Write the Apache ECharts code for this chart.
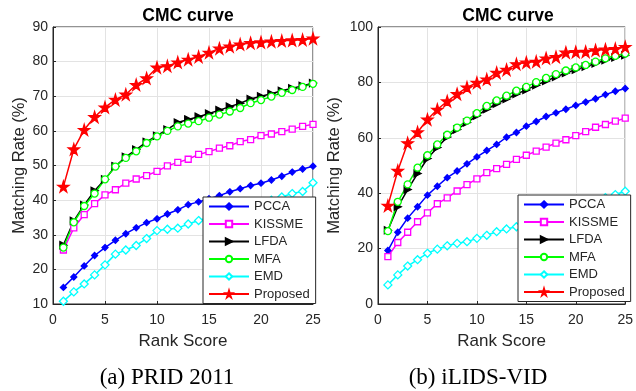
<!DOCTYPE html>
<html><head><meta charset="utf-8">
<script src="https://cdn.jsdelivr.net/npm/echarts@6/dist/echarts.min.js"></script>
<style>html,body{margin:0;padding:0;background:#fff}#c{width:636px;height:391px}</style>
</head><body><div id="c"></div>
<script>
var ranks = [1,2,3,4,5,6,7,8,9,10,11,12,13,14,15,16,17,18,19,20,21,22,23,24,25];
var methods = ['PCCA','KISSME','LFDA','MFA','EMD','Proposed'];
// PRID 2011
var pridPCCA = [14.8,17.8,21.0,24.0,26.3,28.4,30.3,32.0,33.5,34.6,36.0,37.2,38.7,39.5,40.4,41.3,42.4,43.3,44.2,44.9,45.8,46.9,48.1,49.0,49.8];
var pridKISSME = [25.6,32.0,35.8,39.0,41.5,43.0,44.9,46.1,47.1,48.3,49.9,50.9,51.8,53.2,54.0,55.0,55.7,56.9,57.5,58.6,59.1,59.8,60.5,61.3,61.9];
var pridLFDA = [27.0,34.0,38.6,42.7,46.0,49.8,52.5,54.6,56.8,58.6,60.4,62.4,63.3,64.1,65.0,66.0,67.0,68.0,69.2,70.0,70.7,71.6,72.3,73.0,73.8];
var pridMFA = [26.3,33.6,38.3,41.9,46.0,49.7,52.2,54.1,56.5,58.4,60.0,61.3,62.1,62.8,63.8,64.7,65.6,66.6,68.0,68.9,69.9,71.0,71.8,72.7,73.6];
var pridEMD = [10.8,13.5,15.8,18.4,21.3,24.4,25.6,26.9,28.9,31.2,31.6,31.9,33.1,34.1,35.0,35.9,36.6,37.5,38.3,39.2,40.0,40.9,41.9,42.5,45.0];
var pridProposed = [43.9,54.7,60.3,64.0,66.8,69.0,70.5,73.3,75.2,78.3,78.7,79.8,80.6,81.4,82.6,83.8,84.4,85.0,85.4,85.6,85.8,86.0,86.2,86.3,86.7];
// iLIDS-VID
var ilidsPCCA = [19.3,25.9,31.0,35.1,39.3,42.5,45.6,48.0,50.6,53.1,55.4,57.6,60.2,61.9,64.2,65.9,67.7,69.0,70.3,71.7,72.9,74.1,75.6,76.8,77.8];
var ilidsKISSME = [17.1,22.2,25.9,29.7,32.9,36.2,38.3,40.8,43.1,45.2,47.4,48.9,50.4,52.2,53.7,55.2,56.6,58.1,59.3,60.8,62.2,63.8,64.8,66.0,67.1];
var ilidsLFDA = [26.6,35.1,41.3,47.1,52.5,56.5,60.3,63.0,65.5,68.0,70.3,72.3,74.0,75.8,77.3,79.0,80.5,82.0,83.4,84.6,85.7,86.8,88.0,89.0,89.8];
var ilidsMFA = [26.3,36.9,43.2,49.2,53.7,57.6,61.1,63.7,66.2,68.9,71.5,73.5,75.2,77.0,78.4,80.1,81.6,83.0,84.3,85.4,86.3,87.5,88.7,89.6,90.4];
var ilidsEMD = [6.9,10.5,13.7,16.0,18.3,19.8,21.0,21.9,22.5,23.7,24.8,26.1,27.1,27.9,29.0,30.1,31.1,32.4,33.6,34.7,36.0,37.3,38.4,39.5,40.7];
var ilidsProposed = [35.5,48.1,58.1,62.0,66.6,70.2,73.2,75.8,78.2,79.9,81.1,83.5,84.6,86.6,87.2,87.5,88.7,89.2,90.8,91.0,91.1,91.6,91.9,92.1,92.8];

var STAR = 'path://M50,0 L61,35 L98,35 L68,57 L79,91 L50,70 L21,91 L32,57 L2,35 L39,35 Z';
var TRI = 'path://M0,0 L10,5 L0,10 Z';
var styles = {
  PCCA:{color:'#0000ff', symbol:'diamond', size:6, fill:'#0000ff'},
  KISSME:{color:'#ff00ff', symbol:'rect', size:6, fill:'#ffffff'},
  LFDA:{color:'#000000', symbol:TRI, size:7, fill:'#000000'},
  MFA:{color:'#00ff00', symbol:'circle', size:7, fill:'#ffffff'},
  EMD:{color:'#00ffff', symbol:'diamond', size:8, fill:'#ffffff'},
  Proposed:{color:'#ff0000', symbol:STAR, size:11, fill:'#ff0000'}
};
var setA = {PCCA:pridPCCA,KISSME:pridKISSME,LFDA:pridLFDA,MFA:pridMFA,EMD:pridEMD,Proposed:pridProposed};
var setB = {PCCA:ilidsPCCA,KISSME:ilidsKISSME,LFDA:ilidsLFDA,MFA:ilidsMFA,EMD:ilidsEMD,Proposed:ilidsProposed};

function mk(name, vals, idx){
  var s = styles[name];
  return {
    name:name, type:'line', xAxisIndex:idx, yAxisIndex:idx,
    data: ranks.map(function(r,i){return [r, vals[i]];}),
    symbol:s.symbol, symbolSize:s.size, showAllSymbol:true,
    lineStyle:{color:s.color, width:1.5},
    itemStyle:{color:s.fill, borderColor:s.color, borderWidth:1.3},
    emphasis:{disabled:true}, animation:false, z: 2
  };
}
var series = [];
methods.forEach(function(m){ series.push(mk(m, setA[m], 0)); });
methods.forEach(function(m){ series.push(mk(m, setB[m], 1)); });

var txt = '#262626';
var fontFam = '"Liberation Sans", Arial, Helvetica, sans-serif';
function xAx(idx){
  return {type:'value', gridIndex:idx, min:0, max:25, interval:5,
    name:'Rank Score', nameLocation:'middle', nameGap:29,
    nameTextStyle:{color:txt, fontSize:17, fontFamily:fontFam},
    axisLine:{show:true, onZero:false, lineStyle:{color:txt, width:1}},
    axisTick:{show:true, inside:true, length:3, lineStyle:{color:txt}},
    axisLabel:{color:txt, fontSize:14, fontFamily:fontFam, margin:9},
    splitLine:{show:true, lineStyle:{color:'#e3e3e3', width:1}}};
}
function yAx(idx, min, max, itv, gap){
  return {type:'value', gridIndex:idx, min:min, max:max, interval:itv,
    name:'Matching Rate (%)', nameLocation:'middle', nameGap:gap,
    nameTextStyle:{color:txt, fontSize:16.5, fontFamily:fontFam},
    axisLine:{show:true, onZero:false, lineStyle:{color:txt, width:1}},
    axisTick:{show:true, inside:true, length:3, lineStyle:{color:txt}},
    axisLabel:{color:txt, fontSize:14, fontFamily:fontFam, margin:5},
    splitLine:{show:true, lineStyle:{color:'#e3e3e3', width:1}}};
}
function leg(left, top){
  return {orient:'vertical', left:left, top:top, data:methods,
    backgroundColor:'#ffffff', borderColor:txt, borderWidth:1,
    padding:[3,6,3,5], itemGap:4.5, itemWidth:40, itemHeight:8,
    textStyle:{color:txt, fontSize:13, fontFamily:fontFam},
    selectedMode:false};
}
var capFont = '23px "Liberation Serif", "Times New Roman", serif';
var chart = echarts.init(document.getElementById('c'), null, {renderer:'canvas'});
chart.setOption({
  backgroundColor:'#ffffff',
  animation:false,
  title:[
    {text:'CMC curve', left:183, top:2, textAlign:'center', textStyle:{fontSize:17.5, fontWeight:'bold', color:'#000', fontFamily:fontFam}},
    {text:'CMC curve', left:503, top:2, textAlign:'center', textStyle:{fontSize:17.5, fontWeight:'bold', color:'#000', fontFamily:fontFam}}
  ],
  grid:[
    {left:53, top:27, width:260, height:277, show:true, borderColor:txt, borderWidth:1, backgroundColor:'transparent'},
    {left:378, top:27, width:251, height:277, show:true, borderColor:txt, borderWidth:1, backgroundColor:'transparent'}
  ],
  xAxis:[xAx(0), xAx(1)],
  yAxis:[yAx(0,10,90,10,25), yAx(1,0,100,20,35)],
  legend:[leg(203,197), leg(518,195)],
  graphic:[
    {type:'text', x:167, y:378, style:{text:'(a) PRID 2011', font:capFont, fill:'#000', align:'center', verticalAlign:'middle'}},
    {type:'text', x:478, y:378, style:{text:'(b) iLIDS-VID', font:capFont, fill:'#000', align:'center', verticalAlign:'middle'}}
  ],
  series:series
});
</script></body></html>
